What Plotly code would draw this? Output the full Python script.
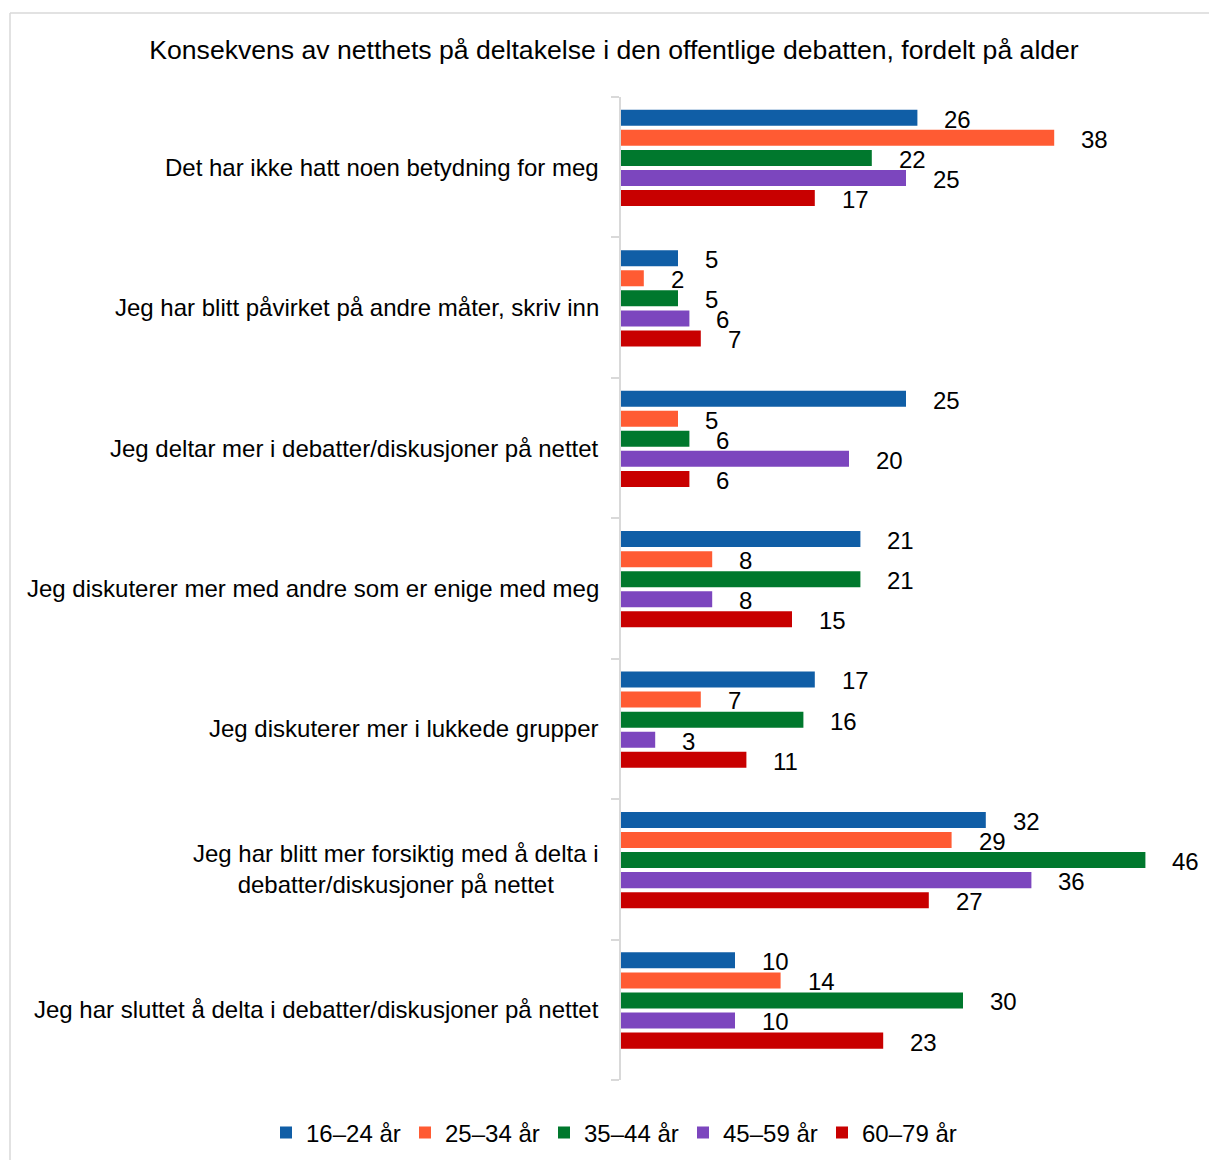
import plotly.graph_objects as go

# Survey answers (percent) by age group
categories = [
    "Det har ikke hatt noen betydning for meg",
    "Jeg har blitt påvirket på andre måter, skriv inn",
    "Jeg deltar mer i debatter/diskusjoner på nettet",
    "Jeg diskuterer mer med andre som er enige med meg",
    "Jeg diskuterer mer i lukkede grupper",
    "Jeg har blitt mer forsiktig med å delta i<br>debatter/diskusjoner på nettet",
    "Jeg har sluttet å delta i debatter/diskusjoner på nettet",
]
age_groups = ["16–24 år", "25–34 år", "35–44 år", "45–59 år", "60–79 år"]
age_16_24 = [26, 5, 25, 21, 17, 32, 10]
age_25_34 = [38, 2, 5, 8, 7, 29, 14]
age_35_44 = [22, 5, 6, 21, 16, 46, 30]
age_45_59 = [25, 6, 20, 8, 3, 36, 10]
age_60_79 = [17, 7, 6, 15, 11, 27, 23]
series = [age_16_24, age_25_34, age_35_44, age_45_59, age_60_79]
colors = ["#105EA6", "#FF5B33", "#00782D", "#7C46BE", "#C80000"]

FONT = "Liberation Sans, Arial, sans-serif"
bar_w = 0.114
pitch = 0.1429
first_off = -0.409

W, H = 1209, 1160
ML, MR, MT, MB = 621, 18, 97, 80
PW, PH = W - ML - MR, H - MT - MB

pos = list(range(len(categories)))
fig = go.Figure()
annotations = []
for k, (name, vals, col) in enumerate(zip(age_groups, series, colors)):
    off = first_off + k * pitch
    fig.add_trace(go.Bar(
        name=name, x=vals, y=pos, orientation="h",
        offset=off, width=bar_w, marker=dict(color=col, line=dict(width=0)),
        hoverinfo="x+name",
    ))
    for i, v in enumerate(vals):
        annotations.append(dict(
            x=v, y=i + off + bar_w / 2 + 0.01, xref="x", yref="y",
            text=str(v), showarrow=False, xanchor="left", yanchor="middle",
            xshift=25, font=dict(family=FONT, size=24, color="#000000"),
        ))

for i, c in enumerate(categories):
    annotations.append(dict(
        x=0, y=i, xref="paper", yref="y", text=c, showarrow=False,
        xanchor="right", yanchor="middle", align="center", xshift=-20,
        font=dict(family=FONT, size=24, color="#000000"),
    ))


def px_x(p):
    return (p - ML) / PW


def px_y(p):
    return (H - MB - p) / PH


fig.update_layout(
    width=W, height=H,
    margin=dict(l=ML, r=MR, t=MT, b=MB, autoexpand=False),
    paper_bgcolor="white", plot_bgcolor="white",
    barmode="overlay",
    title=dict(
        text="Konsekvens av netthets på deltakelse i den offentlige debatten, fordelt på alder",
        xref="container", yref="container", x=614 / W, y=1 - 50 / H,
        xanchor="center", yanchor="middle",
        font=dict(family=FONT, size=26.6, color="#000000"),
    ),
    xaxis=dict(range=[0, 50], visible=False),
    yaxis=dict(
        range=[6.5, -0.5], showgrid=False, zeroline=False,
        showline=True, linecolor="#d9d9d9", linewidth=2,
        tickmode="array", tickvals=[j - 0.5 for j in range(len(categories) + 1)],
        ticktext=[""] * (len(categories) + 1),
        ticks="outside", ticklen=8, tickcolor="#d9d9d9", tickwidth=2,
    ),
    legend=dict(
        orientation="h", xref="paper", yref="paper",
        x=px_x(266), y=px_y(1133), xanchor="left", yanchor="middle",
        font=dict(family=FONT, size=24, color="#000000"),
        itemwidth=30, traceorder="normal",
        entrywidth=94, entrywidthmode="pixels",
    ),
    annotations=annotations,
    shapes=[
        dict(type="line", xref="paper", yref="paper",
             x0=px_x(10), x1=px_x(W), y0=px_y(13), y1=px_y(13),
             line=dict(color="#d9d9d9", width=1.5)),
        dict(type="line", xref="paper", yref="paper",
             x0=px_x(10), x1=px_x(10), y0=px_y(13), y1=px_y(H),
             line=dict(color="#d9d9d9", width=1.5)),
    ],
)

fig.write_html("out.html")
